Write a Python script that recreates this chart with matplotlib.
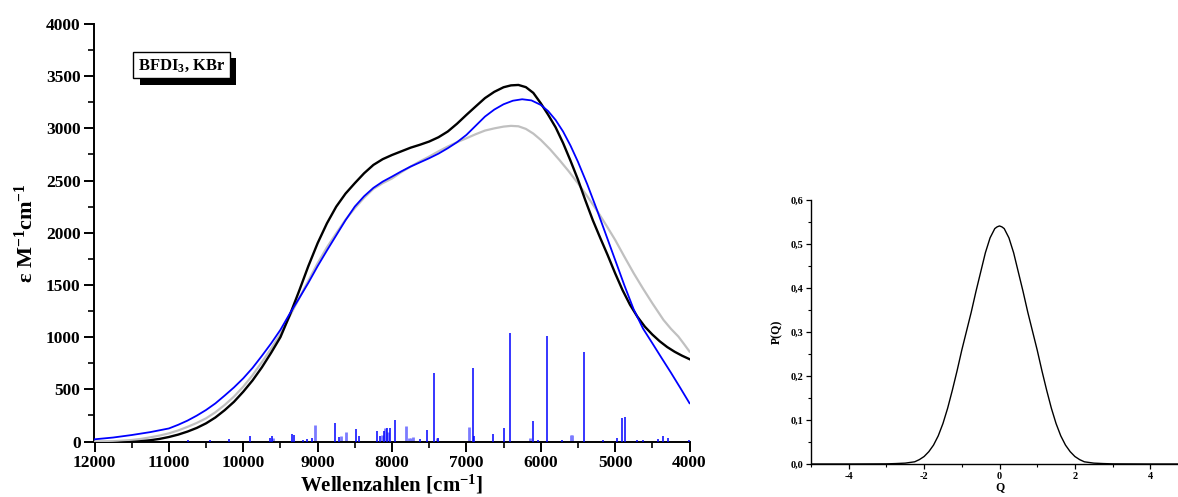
import matplotlib
matplotlib.use("Agg")
import matplotlib.pyplot as plt
from matplotlib.patches import Rectangle
from matplotlib.ticker import MultipleLocator, FuncFormatter

plt.rcParams['font.family'] = ['Liberation Serif', 'DejaVu Serif']
plt.rcParams['font.weight'] = 'bold'
plt.rcParams['mathtext.fontset'] = 'custom'
plt.rcParams['mathtext.rm'] = 'Liberation Serif:bold'
plt.rcParams['mathtext.bf'] = 'Liberation Serif:bold'
plt.rcParams['mathtext.it'] = 'Liberation Serif:bold'

# ---------------- data: absorption curves ----------------
black_wn = [12000, 11750, 11500, 11375, 11250, 11125, 11000, 10875, 10750, 10625, 10500, 10375,
            10250, 10125, 10000, 9875, 9750, 9625, 9500, 9375, 9250, 9125, 9000, 8875, 8750,
            8625, 8500, 8375, 8250, 8125, 8000, 7875, 7750, 7625, 7500, 7375, 7250, 7125, 7000,
            6875, 6750, 6625, 6500, 6400, 6300, 6200, 6100, 6000, 5900, 5800, 5700, 5600, 5500,
            5400, 5300, 5200, 5100, 5000, 4900, 4800, 4700, 4600, 4500, 4400, 4300, 4200, 4100, 4000]
black_eps = [-20, -15, -5, 3, 12, 25, 43, 66, 95, 130, 174, 230,
             300, 380, 477, 585, 710, 850, 1000, 1210, 1440, 1680, 1900, 2090, 2250,
             2375, 2475, 2570, 2650, 2705, 2745, 2780, 2815, 2843, 2874, 2915, 2970, 3045, 3129,
             3210, 3290, 3350, 3394, 3412, 3416, 3395, 3340, 3241, 3130, 3010, 2860, 2690, 2510,
             2310, 2120, 1950, 1785, 1612, 1450, 1310, 1195, 1100, 1025, 960, 905, 860, 822, 789]

blue_wn = [12000, 11750, 11500, 11250, 11000, 10875, 10750, 10625, 10500, 10375, 10250, 10125,
           10000, 9875, 9750, 9625, 9500, 9375, 9250, 9125, 9000, 8875, 8750, 8625, 8500, 8375,
           8250, 8125, 8000, 7875, 7750, 7625, 7500, 7375, 7250, 7125, 7000, 6875, 6750, 6625,
           6500, 6375, 6250, 6125, 6000, 5900, 5800, 5700, 5600, 5500, 5375, 5250, 5125, 5000,
           4875, 4750, 4625, 4500, 4375, 4250, 4125, 4000]
blue_eps = [21, 38, 62, 90, 125, 160, 200, 248, 302, 365, 440, 518,
            605, 705, 820, 940, 1070, 1225, 1370, 1520, 1680, 1830, 1975, 2120, 2251, 2350,
            2430, 2490, 2538, 2588, 2634, 2674, 2714, 2758, 2810, 2868, 2937, 3025, 3113, 3180,
            3231, 3265, 3279, 3268, 3225, 3165, 3080, 2970, 2835, 2680, 2465, 2230, 1985, 1740,
            1495, 1265, 1082, 942, 800, 660, 515, 367]

gray_wn = [12000, 11750, 11500, 11375, 11250, 11125, 11000, 10875, 10750, 10625, 10500, 10375,
           10250, 10125, 10000, 9875, 9750, 9625, 9500, 9375, 9250, 9125, 9000, 8875, 8750,
           8625, 8500, 8375, 8250, 8125, 8000, 7875, 7750, 7625, 7500, 7375, 7250, 7125, 7000,
           6875, 6750, 6625, 6500, 6400, 6300, 6200, 6100, 6000, 5875, 5750, 5625, 5500, 5375,
           5250, 5125, 5000, 4875, 4750, 4625, 4500, 4425, 4350, 4250, 4150, 4075, 4000]
gray_eps = [0, 3, 14, 25, 40, 57, 78, 106, 140, 178, 222, 280,
            350, 430, 525, 635, 760, 890, 1030, 1200, 1370, 1540, 1708, 1860, 1995,
            2125, 2235, 2335, 2420, 2475, 2520, 2580, 2634, 2684, 2730, 2780, 2826, 2868, 2905,
            2944, 2979, 3000, 3017, 3024, 3020, 2995, 2950, 2890, 2800, 2698, 2590, 2474, 2350,
            2219, 2078, 1932, 1770, 1612, 1465, 1325, 1245, 1165, 1080, 1006, 935, 862]

# ---------------- data: calculated transitions (sticks) ----------------
stick_wn = [7441, 6913, 6411, 5914, 5417, 4906, 4866, 6100, 6492, 6640, 7531, 7955,
            8028, 8073, 8760, 9340, 9315, 9616, 9903, 10188, 4973, 4359, 4292, 4422,
            8481, 8203, 8113, 9081, 6900, 7387, 5161, 4005, 5716, 8441, 8714, 8163,
            9637, 9140, 9190, 10448, 10740, 4712, 4625, 6043, 7620]
stick_int = [657, 705, 1038, 1015, 860, 222, 236, 197, 126, 75, 112, 202,
             127, 133, 178, 74, 67, 57, 57, 26, 35, 55, 30, 20,
             115, 96, 98, 35, 55, 35, 16, 15, 12, 57, 40, 55,
             30, 25, 15, 10, 10, 10, 15, 10, 20]

light_wn = [9040, 8624, 8687, 8095, 7806, 6970, 5600, 5585, 6140, 7740, 7720, 7765, 7390,
            8060, 8135, 9600]
light_int = [154, 93, 48, 128, 148, 136, 65, 65, 30, 35, 40, 30, 30,
             90, 60, 30]

# ---------------- data: P(Q) ----------------
q_vals = [-5, -4, -3, -2.75, -2.5, -2.25, -2.125, -2, -1.875, -1.75, -1.625, -1.5, -1.375,
          -1.25, -1.125, -1, -0.875, -0.75, -0.625, -0.5, -0.375, -0.25, -0.125, -0.0625, 0,
          0.0625, 0.125, 0.25, 0.375, 0.5, 0.625, 0.75, 0.875, 1, 1.125, 1.25, 1.375, 1.5, 1.625,
          1.75, 1.875, 2, 2.125, 2.25, 2.5, 2.75, 3, 4, 5]
p_vals = [0, 0, 0.0003, 0.001, 0.002, 0.005, 0.010, 0.017, 0.028, 0.043, 0.064, 0.092, 0.127,
          0.168, 0.212, 0.259, 0.302, 0.345, 0.392, 0.436, 0.480, 0.514, 0.535, 0.539, 0.541,
          0.539, 0.535, 0.514, 0.480, 0.436, 0.392, 0.345, 0.302, 0.259, 0.212, 0.168, 0.127, 0.092,
          0.064, 0.043, 0.028, 0.017, 0.010, 0.005, 0.002, 0.001, 0.0003, 0, 0]

W, H = 1178, 497
fig = plt.figure(figsize=(W / 100, H / 100), dpi=100)

# ---------------- left panel ----------------
ax = fig.add_axes([94.5 / W, 1 - 441.5 / H, 595 / W, 417.5 / H])
ax.vlines(light_wn, 0, light_int, color='#7b7bff', lw=2.0, zorder=2)
ax.vlines(stick_wn, 0, stick_int, color='#0000ff', lw=1.1, zorder=3)
ax.plot(gray_wn, gray_eps, color='#c0c0c0', lw=1.6, zorder=4)
ax.plot(black_wn, black_eps, color='black', lw=1.7, zorder=5)
ax.plot(blue_wn, blue_eps, color='#0000ff', lw=1.3, zorder=6)

ax.set_xlim(12000, 4000)
ax.set_ylim(0, 4000)
ax.xaxis.set_major_locator(MultipleLocator(1000))
ax.xaxis.set_minor_locator(MultipleLocator(500))
ax.yaxis.set_major_locator(MultipleLocator(500))
ax.yaxis.set_minor_locator(MultipleLocator(250))
for s in ['top', 'right']:
    ax.spines[s].set_visible(False)
for s in ['left', 'bottom']:
    ax.spines[s].set_linewidth(1.4)
ax.tick_params(which='major', direction='out', length=7, width=1.4, labelsize=12.5, pad=3)
ax.tick_params(which='minor', direction='out', length=4, width=1.2)
for lab in ax.get_xticklabels() + ax.get_yticklabels():
    lab.set_fontweight('bold')
ax.set_xlabel('Wellenzahlen [cm$^{-1}$]', fontsize=15, fontweight='bold', labelpad=1)
ax.set_ylabel('ε M$^{-1}$cm$^{-1}$', fontsize=16, fontweight='bold', labelpad=6)

# label box with shadow
def fx(px):
    return px / W

def fy(py):
    return 1 - py / H

bx0, bx1, by0, by1 = 133.3, 229.5, 51.7, 78.3
fig.add_artist(Rectangle((fx(bx0 + 6.5), fy(by1 + 6.7)), fx(bx1 - bx0), (by1 - by0) / H,
                         transform=fig.transFigure, facecolor='black', edgecolor='black', lw=0, zorder=10))
fig.add_artist(Rectangle((fx(bx0), fy(by1)), fx(bx1 - bx0), (by1 - by0) / H,
                         transform=fig.transFigure, facecolor='white', edgecolor='black', lw=1.0, zorder=11))
fig.text(fx((bx0 + bx1) / 2), fy((by0 + by1) / 2 + 1.0), 'BFDI$_{3}$, KBr', ha='center', va='center',
         fontsize=12, fontweight='bold', zorder=12)

# ---------------- right panel ----------------
ax2 = fig.add_axes([811 / W, 1 - 464 / H, 377 / W, 264 / H])
ax2.plot(q_vals, p_vals, color='black', lw=1.0)
ax2.set_xlim(-5, 5)
ax2.set_ylim(0, 0.6)
ax2.xaxis.set_major_locator(MultipleLocator(2))
ax2.xaxis.set_minor_locator(MultipleLocator(1))
ax2.yaxis.set_major_locator(MultipleLocator(0.1))
ax2.yaxis.set_minor_locator(MultipleLocator(0.05))
ax2.yaxis.set_major_formatter(FuncFormatter(lambda v, p: ('%.1f' % v).replace('.', ',')))
ax2.xaxis.set_major_formatter(FuncFormatter(lambda v, p: '%d' % round(v)))
for s in ['top', 'right']:
    ax2.spines[s].set_visible(False)
for s in ['left', 'bottom']:
    ax2.spines[s].set_linewidth(1.0)
ax2.tick_params(which='major', direction='out', length=3.5, width=0.9, labelsize=7.5, pad=2)
ax2.tick_params(which='minor', direction='out', length=2, width=0.8)
for lab in ax2.get_xticklabels() + ax2.get_yticklabels():
    lab.set_fontweight('bold')
ax2.set_xlabel('Q', fontsize=8.5, fontweight='bold', labelpad=0)
ax2.set_ylabel('P(Q)', fontsize=8.5, fontweight='bold', labelpad=5)

fig.savefig('out.png', dpi=100)
